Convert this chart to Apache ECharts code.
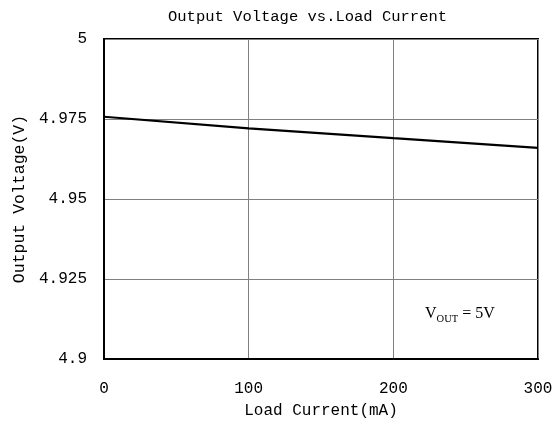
<!DOCTYPE html>
<html>
<head>
<meta charset="utf-8">
<script src="https://cdn.jsdelivr.net/npm/echarts@6/dist/echarts.min.js"></script>
<style>html,body{margin:0;padding:0;background:#fff}#c{width:557px;height:425px}</style>
</head>
<body>
<div id="c"></div>
<script>
var titleText = 'Output Voltage vs.Load Current';
var xName = 'Load Current(mA)';
var yName = 'Output Voltage(V)';
var loadCurrent = [0, 100, 200, 300];
var outputVoltage = [4.9757, 4.9721, 4.9690, 4.9660];
var xTicks = [0, 100, 200, 300];
var yTicks = [4.9, 4.925, 4.95, 4.975, 5];

var mono = 'Liberation Mono';
var chart = echarts.init(document.getElementById('c'), null, {renderer: 'canvas'});
chart.setOption({
  animation: false,
  backgroundColor: '#fff',
  title: {
    text: titleText, left: 163, top: 4,
    textStyle: {fontFamily: mono, fontSize: 15.5, fontWeight: 'normal', color: '#000'}
  },
  grid: {left: 104, right: 19, top: 39, bottom: 66, show: true, borderColor: '#000', borderWidth: 2},
  xAxis: {
    type: 'value', min: xTicks[0], max: xTicks[xTicks.length - 1], interval: 100,
    name: xName, nameLocation: 'middle', nameGap: 44,
    nameTextStyle: {fontFamily: mono, fontSize: 16, color: '#000'},
    axisLine: {show: true, lineStyle: {color: '#000', width: 2}},
    axisTick: {show: false},
    axisLabel: {fontFamily: mono, fontSize: 16, color: '#000', margin: 22},
    splitLine: {show: true, lineStyle: {color: '#808080', width: 1}}
  },
  yAxis: {
    type: 'value', min: yTicks[0], max: yTicks[yTicks.length - 1], interval: 0.025,
    name: yName, nameLocation: 'middle', nameGap: 69,
    nameTextStyle: {fontFamily: mono, fontSize: 16.5, color: '#000'},
    axisLine: {show: true, lineStyle: {color: '#000', width: 2}},
    axisTick: {show: false},
    axisLabel: {fontFamily: mono, fontSize: 16, color: '#000', margin: 17,
      formatter: function (v) { return String(+v.toFixed(3)); }},
    splitLine: {show: true, lineStyle: {color: '#808080', width: 1}}
  },
  graphic: [{
    type: 'text', left: 425, top: 306,
    style: {
      text: '{a|V}{b|OUT}{a| = 5V}',
      rich: {
        a: {fontFamily: 'Liberation Serif', fontSize: 16, fill: '#000', verticalAlign: 'bottom', lineHeight: 19},
        b: {fontFamily: 'Liberation Serif', fontSize: 10.5, fill: '#000', verticalAlign: 'bottom', lineHeight: 13, padding: [0, 0, -3, 0]}
      }
    }
  }],
  series: [{
    type: 'line', data: loadCurrent.map(function (x, i) { return [x, outputVoltage[i]]; }),
    showSymbol: false, symbol: 'none',
    lineStyle: {color: '#000', width: 2.2}
  }]
});
</script>
</body>
</html>
